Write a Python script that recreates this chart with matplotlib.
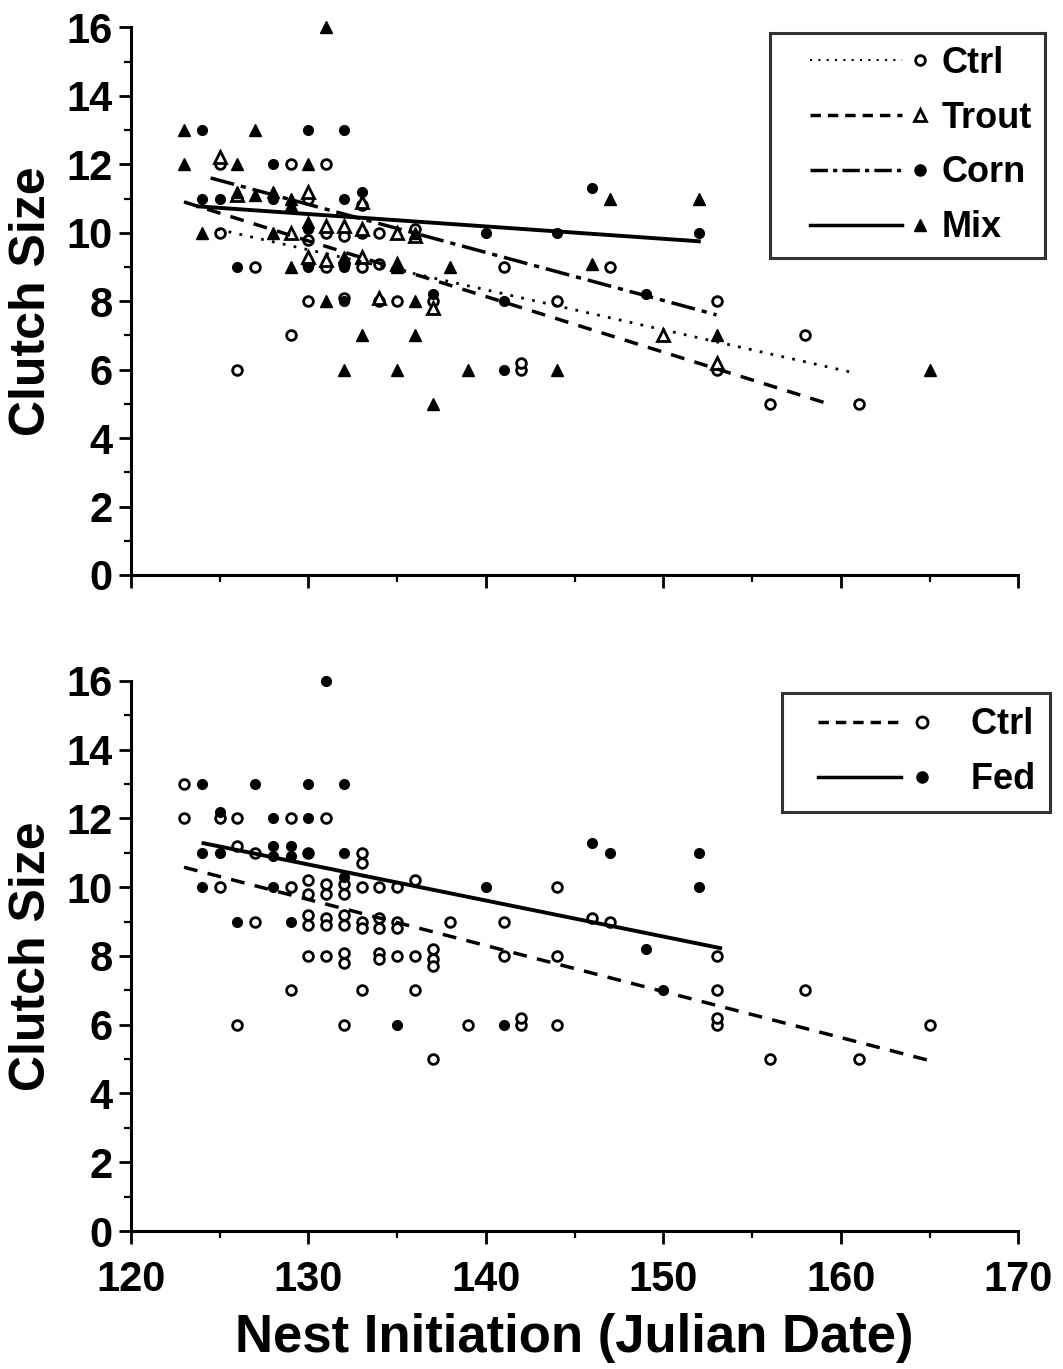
import matplotlib
matplotlib.use("Agg")
import matplotlib.pyplot as plt
from matplotlib.lines import Line2D
from matplotlib.legend_handler import HandlerBase
from matplotlib.ticker import MultipleLocator

# ---------------- data ----------------
# Top panel groups
ctrl_x = [125, 129, 131, 130, 125, 131, 133, 134, 130, 132, 127, 130, 131, 132, 133, 134, 141, 147,
          130, 132, 134, 135, 137, 144, 153, 129, 158, 126, 142, 142, 153, 156, 161, 133, 136]
ctrl_y = [12, 12, 12, 11, 10, 10, 10, 10, 9.8, 9.9, 9, 9.1, 9, 9.1, 9, 9.1, 9, 9,
          8, 8.1, 8, 8, 8, 8, 8, 7, 7, 6, 6, 6.2, 6, 5, 5, 10.8, 10.1]

trout_x = [125, 130, 126, 133, 129, 131, 132, 133, 135, 136, 130, 131, 133, 135, 134, 137, 150, 153]
trout_y = [12.2, 11.2, 11.1, 10.9, 10, 10.2, 10.2, 10.1, 10, 9.9, 9.3, 9.2, 9.3, 9.1, 8.1, 7.8, 7, 6.2]

corn_x = [124, 130, 132, 128, 124, 125, 132, 133, 128, 140, 144, 152, 130, 126, 130, 132, 146, 149,
          141, 132, 141, 137]
corn_y = [13, 13, 13, 12, 11, 11, 11, 11.2, 11, 10, 10, 10, 10.1, 9, 9, 9, 11.3, 8.2,
          8, 8, 6, 8.2]

mix_x = [123, 127, 123, 126, 130, 131, 126, 127, 128, 129, 129, 124, 128, 129, 130, 131, 136, 133,
         136, 132, 135, 137, 139, 144, 138, 146, 147, 152, 153, 165, 132, 135, 136]
mix_y = [13, 13, 12, 12, 12, 16, 11.2, 11.1, 11.2, 11, 10.8, 10, 10, 9, 10.3, 8, 8, 7,
         7, 6, 6, 5, 6, 6, 9, 9.1, 11, 11, 7, 6, 9.3, 9, 10]

# Top panel regression lines (end points)
ctrl_fit_x, ctrl_fit_y = [124.9, 160.8], [10.1, 5.9]
trout_fit_x, trout_fit_y = [123.0, 159.3], [10.9, 5.0]
corn_fit_x, corn_fit_y = [124.5, 153.0], [11.6, 7.6]
mix_fit_x, mix_fit_y = [123.8, 152.0], [10.77, 9.75]

# Bottom panel groups
ctrl2_x = [123, 123, 125, 126, 129, 131, 126, 127, 130, 133, 133, 125, 129, 130, 130, 131, 131, 132,
           132, 133, 134, 135, 136, 127, 130, 130, 131, 131, 132, 132, 133, 133, 134, 134, 135, 135,
           138, 141, 146, 147, 130, 131, 132, 132, 134, 134, 135, 136, 137, 137, 137, 141, 144, 153,
           129, 133, 136, 153, 158, 126, 132, 139, 142, 142, 144, 153, 153, 165, 137, 156, 161, 144]
ctrl2_y = [13, 12, 12, 12, 12, 12, 11.2, 11, 11, 11, 10.7, 10, 10, 10.2, 9.8, 10.1, 9.8, 10.1,
           9.8, 10, 10, 10, 10.2, 9, 9.2, 8.9, 9.1, 8.9, 9.2, 8.9, 9, 8.8, 9.1, 8.8, 9, 8.8,
           9, 9, 9.1, 9, 8, 8, 8.1, 7.8, 8.1, 7.9, 8, 8, 8.2, 7.9, 7.7, 8, 8, 8,
           7, 7, 7, 7, 7, 6, 6, 6, 6, 6.2, 6, 6, 6.2, 6, 5, 5, 5, 10]

fed_x = [124, 127, 130, 132, 131, 125, 128, 130, 124, 125, 128, 128, 129, 129, 130, 132, 124, 128,
         126, 129, 135, 140, 146, 147, 152, 152, 149, 150, 141, 132]
fed_y = [13, 13, 13, 13, 16, 12.2, 12, 12, 11, 11, 11.2, 10.9, 11.2, 10.9, 11, 11, 10, 10,
         9, 9, 6, 10, 11.3, 11, 11, 10, 8.2, 7, 6, 10.3]

ctrl2_fit_x, ctrl2_fit_y = [123.0, 164.9], [10.58, 4.97]
fed_fit_x, fed_fit_y = [124.1, 153.2], [11.28, 8.23]

y_ticks = [0, 2, 4, 6, 8, 10, 12, 14, 16]
x_ticks = [120, 130, 140, 150, 160, 170]
top_labels = ["Ctrl", "Trout", "Corn", "Mix"]
bottom_labels = ["Ctrl", "Fed"]
y_label = "Clutch Size"
x_label = "Nest Initiation (Julian Date)"

# ---------------- style ----------------
plt.rcParams["font.family"] = ["Liberation Sans", "DejaVu Sans"]
plt.rcParams["font.weight"] = "bold"

fig = plt.figure(figsize=(10.63, 13.69), dpi=100)
ax1 = fig.add_axes([0.123, 0.580, 0.835, 0.400])
ax2 = fig.add_axes([0.123, 0.1008, 0.835, 0.4018])

LW = 2.0
MS = 7
MEW = 2.0

DOT = (0, (1, 3))
DASH = (0, (4, 3))
DASHDOT = (0, (7, 2, 1.5, 2))


class LineThenMarker(HandlerBase):
    def __init__(self, x0=0.18, x1=0.80, xm=0.925, **kw):
        super().__init__(**kw)
        self.x0, self.x1, self.xm = x0, x1, xm

    def create_artists(self, legend, orig_handle, xdescent, ydescent, width, height, fontsize, trans):
        y = height / 2.0 - ydescent
        ln = Line2D([-xdescent + width * self.x0, -xdescent + width * self.x1], [y, y])
        ln.update_from(orig_handle)
        ln.set_marker("None")
        mk = Line2D([-xdescent + width * self.xm], [y])
        mk.update_from(orig_handle)
        mk.set_linestyle("None")
        ln.set_transform(trans)
        mk.set_transform(trans)
        return [ln, mk]


def style_axis(ax, show_xlabels):
    ax.set_xlim(120, 170)
    ax.set_ylim(0, 16)
    ax.spines["top"].set_visible(False)
    ax.spines["right"].set_visible(False)
    for s in ("left", "bottom"):
        ax.spines[s].set_linewidth(2.2)
    ax.set_yticks(y_ticks)
    ax.yaxis.set_minor_locator(MultipleLocator(1))
    ax.set_xticks(x_ticks)
    ax.xaxis.set_minor_locator(MultipleLocator(5))
    ax.tick_params(axis="both", which="major", direction="out", length=9, width=2,
                   labelsize=30, pad=4)
    ax.tick_params(axis="x", which="major", pad=12)
    ax.tick_params(axis="both", which="minor", direction="out", length=5, width=1.6)
    if not show_xlabels:
        ax.tick_params(axis="x", which="both", labelbottom=False)
    for lab in ax.get_yticklabels() + ax.get_xticklabels():
        lab.set_fontweight("bold")
    ax.set_ylabel(y_label, fontsize=36, fontweight="bold", labelpad=8)


def style_legend(leg):
    leg.get_frame().set_edgecolor("black")
    leg.get_frame().set_linewidth(2.2)
    for t in leg.get_texts():
        t.set_fontweight("bold")


# ---------------- top panel ----------------
ax1.plot(ctrl_x, ctrl_y, linestyle="none", marker="o", ms=MS, mfc="white", mec="black", mew=MEW,
         clip_on=False)
ax1.plot(trout_x, trout_y, linestyle="none", marker="^", ms=MS + 1, mfc="white", mec="black", mew=MEW,
         clip_on=False)
ax1.plot(corn_x, corn_y, linestyle="none", marker="o", ms=MS, mfc="black", mec="black", mew=1,
         clip_on=False)
ax1.plot(mix_x, mix_y, linestyle="none", marker="^", ms=MS + 1, mfc="black", mec="black", mew=1,
         clip_on=False)

ax1.plot(ctrl_fit_x, ctrl_fit_y, color="black", lw=LW, linestyle=DOT)
ax1.plot(trout_fit_x, trout_fit_y, color="black", lw=LW + 0.5, linestyle=DASH)
ax1.plot(corn_fit_x, corn_fit_y, color="black", lw=LW + 0.5, linestyle=DASHDOT)
ax1.plot(mix_fit_x, mix_fit_y, color="black", lw=LW + 0.8, linestyle="-")

h_top = [
    Line2D([], [], color="black", lw=1.5, linestyle=DOT, marker="o", ms=7, mfc="white", mec="black", mew=2),
    Line2D([], [], color="black", lw=2.5, linestyle=(0, (3, 2)), marker="^", ms=8, mfc="white", mec="black", mew=2),
    Line2D([], [], color="black", lw=2.5, linestyle=(0, (5, 1.5, 1.2, 1.5)), marker="o", ms=8, mfc="black", mec="black", mew=1),
    Line2D([], [], color="black", lw=2.5, linestyle="-", marker="^", ms=8, mfc="black", mec="black", mew=1),
]
leg1 = ax1.legend(h_top, top_labels, handler_map={Line2D: LineThenMarker(0.18, 0.80, 0.925)},
                  loc="upper right", bbox_to_anchor=(1045 / 1063, 1 - 33 / 1369),
                  bbox_transform=fig.transFigure, fontsize=26, handlelength=4.1,
                  handletextpad=0.3, labelspacing=0.55, borderpad=0.35, borderaxespad=0,
                  frameon=True, fancybox=False)
style_legend(leg1)

style_axis(ax1, False)

# ---------------- bottom panel ----------------
ax2.plot(ctrl2_x, ctrl2_y, linestyle="none", marker="o", ms=MS, mfc="white", mec="black", mew=MEW,
         clip_on=False)
ax2.plot(fed_x, fed_y, linestyle="none", marker="o", ms=MS, mfc="black", mec="black", mew=1,
         clip_on=False)
ax2.plot(ctrl2_fit_x, ctrl2_fit_y, color="black", lw=LW + 0.5, linestyle=DASH)
ax2.plot(fed_fit_x, fed_fit_y, color="black", lw=LW + 0.8, linestyle="-")

h_bot = [
    Line2D([], [], color="black", lw=2.5, linestyle=(0, (3, 2)), marker="o", ms=8, mfc="white", mec="black", mew=2),
    Line2D([], [], color="black", lw=2.5, linestyle="-", marker="o", ms=8, mfc="black", mec="black", mew=1),
]
leg2 = ax2.legend(h_bot, ["  " + s for s in bottom_labels],
                  handler_map={Line2D: LineThenMarker(0.15, 0.73, 0.87)},
                  loc="upper right", bbox_to_anchor=(1050 / 1063, 1 - 693 / 1369),
                  bbox_transform=fig.transFigure, fontsize=26, handlelength=4.0,
                  handletextpad=0.3, labelspacing=0.55, borderpad=0.4, borderaxespad=0,
                  frameon=True, fancybox=False)
style_legend(leg2)

style_axis(ax2, True)
ax2.set_xlabel(x_label, fontsize=38, fontweight="bold", labelpad=9)

fig.savefig("out.png", dpi=100)
